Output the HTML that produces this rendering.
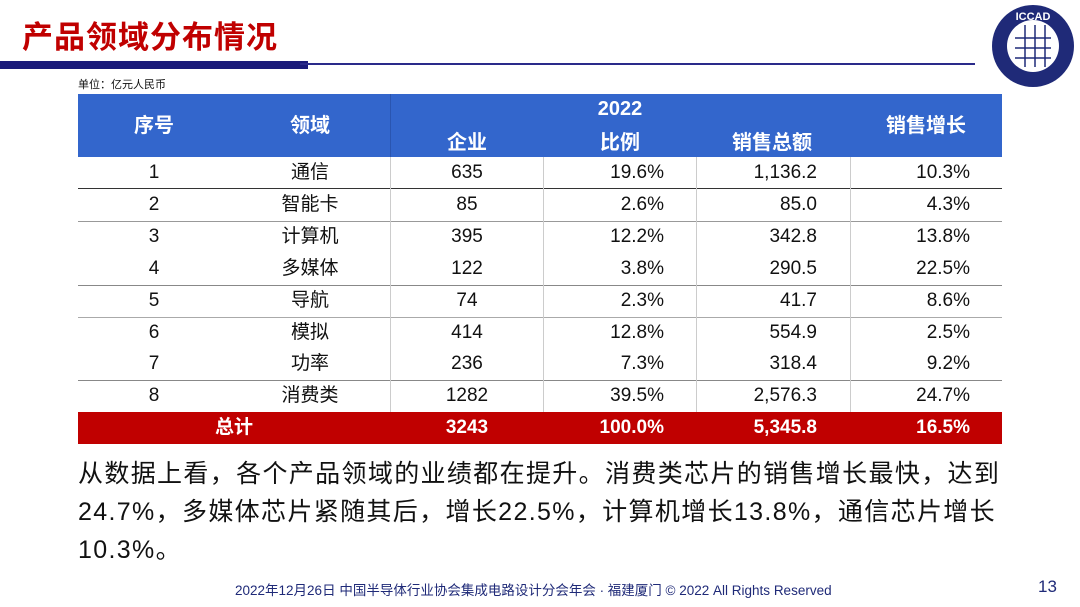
<!DOCTYPE html>
<html><head><meta charset="utf-8"><style>
*{margin:0;padding:0;box-sizing:border-box}
body{width:1080px;height:607px;background:#fff;position:relative;overflow:hidden;font-family:"Liberation Sans","Noto Sans CJK SC",sans-serif;color:#111}
.a{position:absolute;white-space:nowrap}
.title{left:22px;top:12px;font-size:31px;font-weight:bold;color:#c00000;letter-spacing:1px}
.hdr{background:#3366cc;left:78px;top:94px;width:924px;height:63px}
.h{color:#fff;font-size:20px;font-weight:bold;transform:translateX(-50%);line-height:30px}
.c{font-size:19px;transform:translateX(-50%);line-height:32px}
.r{font-size:19px;transform:translateX(-100%);line-height:32px}
.hl{position:absolute;left:78px;width:924px;height:1px;background:#888}
.vl{position:absolute;width:1px;background:#ccc}
.tot{background:#c00000;left:78px;top:412px;width:924px;height:32px}
.w{color:#fff;font-weight:bold}
.p{left:78px;font-size:25px;letter-spacing:1.35px;color:#111;line-height:38px}
</style></head><body>
<div class="a title">产品领域分布情况</div>
<div class="a" style="left:0;top:61px;width:308px;height:8px;background:#1a1a7a"></div>
<div class="a" style="left:300px;top:63px;width:675px;height:2px;background:#2a2a8a"></div>
<svg class="a" style="left:990px;top:3px" width="86" height="86" viewBox="0 0 86 86">
<circle cx="43" cy="43" r="41" fill="#1f2a78"/>
<circle cx="43" cy="43" r="26" fill="#fff"/>
<text x="43" y="17" fill="#fff" font-size="11" text-anchor="middle" font-family="Liberation Sans" font-weight="bold">ICCAD</text>
<g stroke="#1f2a78" stroke-width="1.5"><line x1="25" y1="35" x2="61" y2="35"/><line x1="25" y1="45" x2="61" y2="45"/><line x1="25" y1="55" x2="61" y2="55"/><line x1="35" y1="22" x2="35" y2="64"/><line x1="45" y1="22" x2="45" y2="64"/><line x1="55" y1="22" x2="55" y2="64"/></g>
</svg>
<div class="a" style="left:78px;top:76px;font-size:11px">单位：亿元人民币</div>
<div class="a hdr"></div>
<div class="vl" style="left:390px;top:94px;height:63px;background:#2a55b0"></div>
<div class="a h" style="left:154px;top:111px">序号</div>
<div class="a h" style="left:310px;top:111px">领域</div>
<div class="a h" style="left:620px;top:94px">2022</div>
<div class="a h" style="left:926px;top:111px">销售增长</div>
<div class="a h" style="left:467px;top:128px">企业</div>
<div class="a h" style="left:620px;top:128px">比例</div>
<div class="a h" style="left:772px;top:128px">销售总额</div>
<div class="hl" style="top:188px;background:#333"></div>
<div class="hl" style="top:221px;background:#999"></div>
<div class="hl" style="top:285px"></div>
<div class="hl" style="top:317px;background:#aaa"></div>
<div class="hl" style="top:380px"></div>
<div class="vl" style="left:390px;top:157px;height:255px"></div>
<div class="vl" style="left:543px;top:157px;height:255px"></div>
<div class="vl" style="left:696px;top:157px;height:255px"></div>
<div class="vl" style="left:850px;top:157px;height:255px"></div>
<div class="a tot"></div>
<div class="a c" style="left:154px;top:157px">1</div><div class="a c" style="left:310px;top:157px">通信</div><div class="a c" style="left:467px;top:157px">635</div><div class="a r" style="left:664px;top:157px">19.6%</div><div class="a r" style="left:817px;top:157px">1,136.2</div><div class="a r" style="left:970px;top:157px">10.3%</div>
<div class="a c" style="left:154px;top:189px">2</div><div class="a c" style="left:310px;top:189px">智能卡</div><div class="a c" style="left:467px;top:189px">85</div><div class="a r" style="left:664px;top:189px">2.6%</div><div class="a r" style="left:817px;top:189px">85.0</div><div class="a r" style="left:970px;top:189px">4.3%</div>
<div class="a c" style="left:154px;top:221px">3</div><div class="a c" style="left:310px;top:221px">计算机</div><div class="a c" style="left:467px;top:221px">395</div><div class="a r" style="left:664px;top:221px">12.2%</div><div class="a r" style="left:817px;top:221px">342.8</div><div class="a r" style="left:970px;top:221px">13.8%</div>
<div class="a c" style="left:154px;top:253px">4</div><div class="a c" style="left:310px;top:253px">多媒体</div><div class="a c" style="left:467px;top:253px">122</div><div class="a r" style="left:664px;top:253px">3.8%</div><div class="a r" style="left:817px;top:253px">290.5</div><div class="a r" style="left:970px;top:253px">22.5%</div>
<div class="a c" style="left:154px;top:285px">5</div><div class="a c" style="left:310px;top:285px">导航</div><div class="a c" style="left:467px;top:285px">74</div><div class="a r" style="left:664px;top:285px">2.3%</div><div class="a r" style="left:817px;top:285px">41.7</div><div class="a r" style="left:970px;top:285px">8.6%</div>
<div class="a c" style="left:154px;top:317px">6</div><div class="a c" style="left:310px;top:317px">模拟</div><div class="a c" style="left:467px;top:317px">414</div><div class="a r" style="left:664px;top:317px">12.8%</div><div class="a r" style="left:817px;top:317px">554.9</div><div class="a r" style="left:970px;top:317px">2.5%</div>
<div class="a c" style="left:154px;top:348px">7</div><div class="a c" style="left:310px;top:348px">功率</div><div class="a c" style="left:467px;top:348px">236</div><div class="a r" style="left:664px;top:348px">7.3%</div><div class="a r" style="left:817px;top:348px">318.4</div><div class="a r" style="left:970px;top:348px">9.2%</div>
<div class="a c" style="left:154px;top:380px">8</div><div class="a c" style="left:310px;top:380px">消费类</div><div class="a c" style="left:467px;top:380px">1282</div><div class="a r" style="left:664px;top:380px">39.5%</div><div class="a r" style="left:817px;top:380px">2,576.3</div><div class="a r" style="left:970px;top:380px">24.7%</div>
<div class="a c w" style="left:234px;top:412px">总计</div><div class="a c w" style="left:467px;top:412px">3243</div><div class="a r w" style="left:664px;top:412px">100.0%</div><div class="a r w" style="left:817px;top:412px">5,345.8</div><div class="a r w" style="left:970px;top:412px">16.5%</div>
<div class="a p" style="top:455px">从数据上看，各个产品领域的业绩都在提升。消费类芯片的销售增长最快，达到</div>
<div class="a p" style="top:493px">24.7%，多媒体芯片紧随其后，增长22.5%，计算机增长13.8%，通信芯片增长</div>
<div class="a p" style="top:531px">10.3%。</div>
<div class="a" style="left:235px;top:579px;font-size:13.5px;color:#1f2a78">2022年12月26日 中国半导体行业协会集成电路设计分会年会 · 福建厦门 © 2022 All Rights Reserved</div>
<div class="a" style="left:1038px;top:577px;font-size:17px;color:#1f2a78">13</div>
</body></html>
